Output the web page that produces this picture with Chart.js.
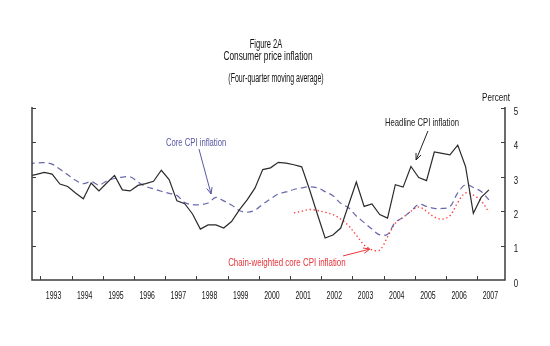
<!DOCTYPE html>
<html>
<head>
<meta charset="utf-8">
<script src="https://cdn.jsdelivr.net/npm/chart.js@4.4.1/dist/chart.umd.min.js"></script>
<style>
  html, body { margin: 0; padding: 0; background: #fff; }
  #wrap { width: 550px; height: 346px; }
</style>
</head>
<body>
<div id="wrap"><canvas id="cpi-chart" width="550" height="346"></canvas></div>
<script>
// Quarterly observations, 1992Q3 .. 2007Q2
const quarters = [
    '1992Q3', '1992Q4',
    '1993Q1', '1993Q2', '1993Q3', '1993Q4',
    '1994Q1', '1994Q2', '1994Q3', '1994Q4',
    '1995Q1', '1995Q2', '1995Q3', '1995Q4',
    '1996Q1', '1996Q2', '1996Q3', '1996Q4',
    '1997Q1', '1997Q2', '1997Q3', '1997Q4',
    '1998Q1', '1998Q2', '1998Q3', '1998Q4',
    '1999Q1', '1999Q2', '1999Q3', '1999Q4',
    '2000Q1', '2000Q2', '2000Q3', '2000Q4',
    '2001Q1', '2001Q2', '2001Q3', '2001Q4',
    '2002Q1', '2002Q2', '2002Q3', '2002Q4',
    '2003Q1', '2003Q2', '2003Q3', '2003Q4',
    '2004Q1', '2004Q2', '2004Q3', '2004Q4',
    '2005Q1', '2005Q2', '2005Q3', '2005Q4',
    '2006Q1', '2006Q2', '2006Q3', '2006Q4',
    '2007Q1', '2007Q2',
];

// four-quarter percent change
const headline = [
    3.02, 3.07,
    3.13, 3.08, 2.79, 2.72,
    2.53, 2.36, 2.82, 2.59,
    2.82, 3.04, 2.62, 2.59,
    2.75, 2.80, 2.87, 3.19,
    2.92, 2.30, 2.22, 1.92,
    1.48, 1.60, 1.60, 1.51,
    1.70, 2.04, 2.33, 2.67,
    3.21, 3.26, 3.42, 3.40,
    3.35, 3.29, 2.63, 1.92,
    1.22, 1.31, 1.51, 2.18,
    2.85, 2.14, 2.21, 1.90,
    1.80, 2.77, 2.70, 3.30,
    2.98, 2.89, 3.72, 3.68,
    3.64, 3.92, 3.30, 1.94,
    2.40, 2.62,
];

const core = [
    3.38, 3.40,
    3.41, 3.37, 3.22, 3.06,
    2.90, 2.80, 2.86, 2.76,
    2.88, 2.95, 2.99, 3.00,
    2.85, 2.72, 2.65, 2.58,
    2.52, 2.46, 2.25, 2.19,
    2.19, 2.24, 2.40, 2.30,
    2.18, 2.02, 1.97, 2.03,
    2.20, 2.36, 2.50, 2.56,
    2.63, 2.68, 2.71, 2.68,
    2.57, 2.45, 2.23, 2.10,
    1.86, 1.67, 1.48, 1.31,
    1.33, 1.68, 1.82, 2.00,
    2.20, 2.14, 2.08, 2.08,
    2.13, 2.53, 2.77, 2.69,
    2.57, 2.33,
];

// chained index only starts in 2001
const chained = [
    null, null,
    null, null, null, null,
    null, null, null, null,
    null, null, null, null,
    null, null, null, null,
    null, null, null, null,
    null, null, null, null,
    null, null, null, null,
    null, null, null, null,
    1.95, 2.00, 2.05, 2.02,
    1.97, 1.90, 1.77, 1.58,
    1.30, 1.02, 0.88, 0.87,
    1.25, 1.65, 1.82, 2.00,
    2.12, 2.00, 1.83, 1.77,
    1.87, 2.25, 2.53, 2.47,
    2.30, 1.97,
];

const yearTicks = [1993, 1994, 1995, 1996, 1997, 1998, 1999, 2000, 2001, 2002, 2003, 2004, 2005, 2006, 2007];
const percentTicks = [0, 1, 2, 3, 4, 5];

const titleLines = ['Figure 2A', 'Consumer price inflation', '(Four-quarter moving average)'];

// quarter is plotted at its middle, year ticks sit on Jan 1
function quarterToX(q) {
    const yr = parseInt(q.slice(0, 4), 10);
    const n = parseInt(q.slice(5), 10);
    return yr + (n - 0.5) / 4;
}

function toPoints(values) {
    return values.map((v, i) => ({ x: quarterToX(quarters[i]), y: v }));
}

const FONT = '"Liberation Sans", Arial, Helvetica, sans-serif';

// narrow type: regular sans squeezed horizontally
function drawText(ctx, text, x, y, size, color, squeeze) {
    ctx.save();
    ctx.font = size + 'px ' + FONT;
    ctx.fillStyle = color;
    ctx.textAlign = 'center';
    ctx.textBaseline = 'middle';
    ctx.translate(x, y);
    ctx.scale(squeeze, 1);
    ctx.fillText(text, 0, 0);
    ctx.restore();
}

function drawArrow(ctx, x1, y1, x2, y2, color) {
    const ang = Math.atan2(y2 - y1, x2 - x1);
    const len = 7;
    ctx.save();
    ctx.strokeStyle = color;
    ctx.lineWidth = 1;
    ctx.beginPath();
    ctx.moveTo(x1, y1);
    ctx.lineTo(x2, y2);
    ctx.moveTo(x2 - len * Math.cos(ang - 0.4), y2 - len * Math.sin(ang - 0.4));
    ctx.lineTo(x2, y2);
    ctx.lineTo(x2 - len * Math.cos(ang + 0.4), y2 - len * Math.sin(ang + 0.4));
    ctx.stroke();
    ctx.restore();
}

// axes frame, tick marks, labels and callouts
const decorations = {
    id: 'decorations',
    afterDraw(chart) {
        const ctx = chart.ctx;
        const xs = chart.scales.x;
        const ys = chart.scales.y;
        const left = chart.chartArea.left;
        const right = chart.chartArea.right;
        const bottom = ys.getPixelForValue(0);
        const top = ys.getPixelForValue(5);

        ctx.save();
        ctx.strokeStyle = '#3c3c3c';
        ctx.lineWidth = 1.5;
        ctx.beginPath();
        ctx.moveTo(left, top - 1);
        ctx.lineTo(left, bottom);
        ctx.lineTo(right, bottom);
        ctx.lineTo(right, top - 1);
        ctx.stroke();

        ctx.lineWidth = 1;
        ctx.beginPath();
        percentTicks.forEach((v) => {
            if (v === 0) return;
            const py = Math.round(ys.getPixelForValue(v)) + 0.5;
            ctx.moveTo(left, py);
            ctx.lineTo(left + 4, py);
            ctx.moveTo(right, py);
            ctx.lineTo(right - 4, py);
        });
        yearTicks.forEach((yr) => {
            const px = Math.round(xs.getPixelForValue(yr)) + 0.5;
            ctx.moveTo(px, bottom);
            ctx.lineTo(px, bottom - 4);
        });
        ctx.stroke();
        ctx.restore();

        yearTicks.forEach((yr) => {
            drawText(ctx, String(yr), xs.getPixelForValue(yr + 0.42), bottom + 16, 10.5, '#111', 0.66);
        });
        percentTicks.forEach((v) => {
            drawText(ctx, String(v), right + 11, ys.getPixelForValue(v) + 4, 10.5, '#111', 0.75);
        });
        drawText(ctx, 'Percent', right - 9, top - 10, 10.5, '#111', 0.77);

        drawText(ctx, titleLines[0], 266, 45, 12.5, '#111', 0.6);
        drawText(ctx, titleLines[1], 268, 57, 12.5, '#111', 0.66);
        drawText(ctx, titleLines[2], 276, 79, 12.5, '#111', 0.56);

        // callouts placed in data coordinates
        const P = (t, v) => [xs.getPixelForValue(t), ys.getPixelForValue(v)];
        let a, b, c;

        a = P(1997.99, 3.98);
        drawText(ctx, 'Core CPI inflation', a[0], a[1], 11, '#5858a4', 0.7);
        b = P(1998.08, 3.81);
        c = P(1998.47, 2.5);
        drawArrow(ctx, b[0], b[1], c[0], c[1], '#5858a4');

        a = P(2005.23, 4.56);
        drawText(ctx, 'Headline CPI inflation', a[0], a[1], 11, '#222', 0.7);
        b = P(2005.42, 4.33);
        c = P(2005.04, 3.49);
        drawArrow(ctx, b[0], b[1], c[0], c[1], '#222');

        a = P(2000.9, 0.49);
        drawText(ctx, 'Chain-weighted core CPI inflation', a[0], a[1], 11, '#e8343a', 0.72);
        b = P(2002.7, 0.7);
        c = P(2003.56, 0.9);
        drawArrow(ctx, b[0], b[1], c[0], c[1], '#e8343a');
    },
};

new Chart(document.getElementById('cpi-chart'), {
    type: 'line',
    data: {
        datasets: [
            {
                label: 'Headline CPI inflation',
                data: toPoints(headline),
                borderColor: '#2b2b2b',
                borderWidth: 1.2,
                pointRadius: 0,
                tension: 0,
            },
            {
                label: 'Core CPI inflation',
                data: toPoints(core),
                borderColor: '#6868ae',
                borderWidth: 1.2,
                borderDash: [6, 4],
                pointRadius: 0,
                tension: 0.35,
            },
            {
                label: 'Chain-weighted core CPI inflation',
                data: toPoints(chained),
                borderColor: '#ff4040',
                borderWidth: 1.4,
                borderDash: [1.4, 2.6],
                pointRadius: 0,
                tension: 0.35,
                spanGaps: false,
            },
        ],
    },
    options: {
        responsive: false,
        devicePixelRatio: 1,
        animation: false,
        events: [],
        layout: {
            padding: { left: 32, right: 45, top: 108, bottom: 66 },
        },
        plugins: {
            legend: { display: false },
            tooltip: { enabled: false },
            title: { display: false },
        },
        scales: {
            x: { type: 'linear', display: false, min: 1992.73, max: 2007.89 },
            y: { type: 'linear', display: false, min: 0, max: 5 },
        },
    },
    plugins: [decorations],
});
</script>
</body>
</html>
